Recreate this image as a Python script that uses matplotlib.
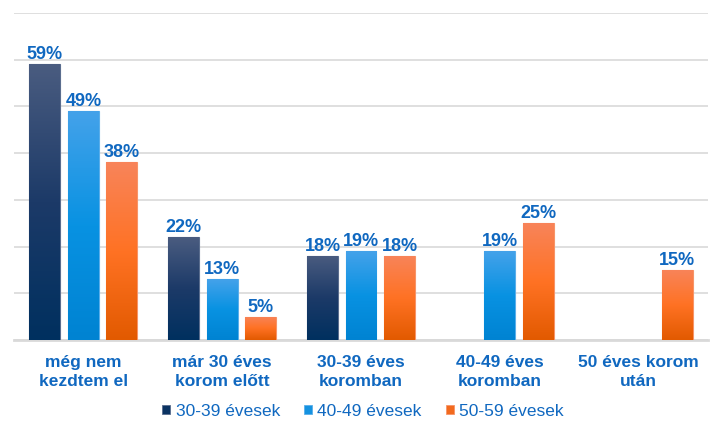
import numpy as np
import matplotlib.pyplot as plt
from matplotlib.colors import LinearSegmentedColormap
from matplotlib.patches import Patch

plt.rcParams['font.family'] = ['Liberation Sans', 'DejaVu Sans']

# Data
categories = ['még nem\nkezdtem el', 'már 30 éves\nkorom előtt', '30-39 éves\nkoromban',
              '40-49 éves\nkoromban', '50 éves korom\nután']
series = ['30-39 évesek', '40-49 évesek', '50-59 évesek']
vals_30 = [59, 22, 18, np.nan, np.nan]
vals_40 = [49, 13, 19, 19, np.nan]
vals_50 = [38, 5, 18, 25, 15]

# gradient colours top -> mid -> bottom for each series
grads = [
    ['#4a5c80', '#1c3a68', '#00305f'],
    ['#44a2ea', '#0892e2', '#0083d2'],
    ['#f8845a', '#ff7224', '#e25a00'],
]
solid = ['#0a3362', '#1592e0', '#f26a1e']
edges = ['#5a6d8e', '#5aaeea', '#f79468']
text_color = '#1068c0'

fig = plt.figure(figsize=(7.22, 4.34), dpi=100)
ax = fig.add_axes([14 / 722, 1 - 340 / 434, 694 / 722, 327 / 434])

x = np.arange(len(categories))
width = 0.223
step = 0.277
gvals = np.linspace(0, 1, 256).reshape(-1, 1)

for i, vals in enumerate([vals_30, vals_40, vals_50]):
    cmap = LinearSegmentedColormap.from_list(f'g{i}', grads[i])
    bars = ax.bar(x + (i - 1) * step, vals, width, color=solid[i],
                  edgecolor=edges[i], linewidth=0.8, zorder=3)
    for b, v in zip(bars, vals):
        if np.isnan(v):
            continue
        x0, w = b.get_x(), b.get_width()
        im = ax.imshow(gvals, extent=[x0, x0 + w, 0, v], aspect='auto', cmap=cmap,
                       origin='upper', zorder=3.5)
        im.set_clip_path(b)
        ax.text(x0 + w / 2, v + 1.1, f'{v:.0f}%', ha='center', va='baseline',
                fontsize=13, fontweight='bold', color=text_color, zorder=5)

ax.set_xlim(-0.5, len(categories) - 0.5)
ax.set_ylim(0, 70)
ax.set_yticks(np.arange(0, 71, 10))
ax.set_yticklabels([])
ax.yaxis.grid(True, color='#d9d9d9', linewidth=1.2, zorder=0)
ax.set_axisbelow(True)
ax.tick_params(axis='both', length=0)
ax.set_xticks(x)
ax.set_xticklabels(categories, fontsize=12.5, fontweight='bold', color=text_color,
                   linespacing=1.3)
ax.tick_params(axis='x', pad=11)
for s in ['left', 'right', 'top']:
    ax.spines[s].set_visible(False)
ax.spines['bottom'].set_color('#d9d9d9')
ax.spines['bottom'].set_linewidth(2)

handles = [Patch(facecolor=solid[i], edgecolor=edges[i], linewidth=0.6) for i in range(3)]
fig.legend(handles, series, loc='center', bbox_to_anchor=(0.503, 1 - 411 / 434), ncol=3,
           frameon=False, handlelength=0.46, handleheight=0.46, handletextpad=0.3,
           columnspacing=1.4, fontsize=12.5, labelcolor=text_color, borderpad=0)

fig.savefig('out.png', dpi=100)
